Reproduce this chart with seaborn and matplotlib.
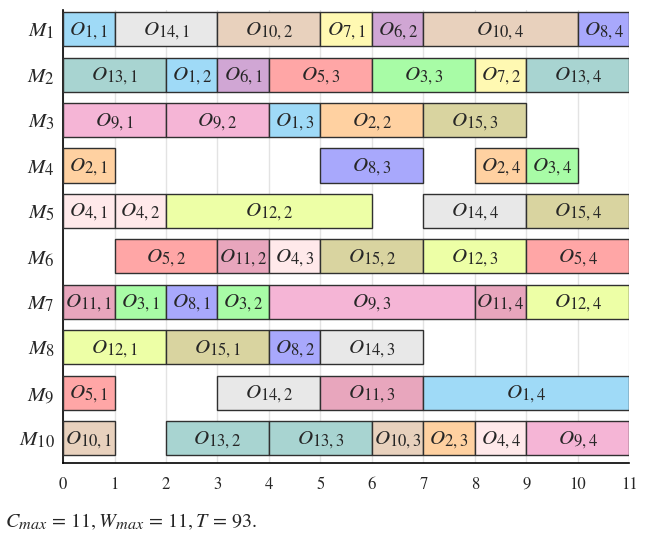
import numpy as np
import seaborn as sns
import matplotlib.pyplot as plt
import matplotlib._mathtext as mathtext_mod

# schedule: one entry per operation, grouped by machine
machine = [1]*7 + [2]*7 + [3]*5 + [4]*4 + [5]*5 + [6]*6 + [7]*7 + [8]*4 + [9]*4 + [10]*7
job = [1, 14, 10, 7, 6, 10, 8,
       13, 1, 6, 5, 3, 7, 13,
       9, 9, 1, 2, 15,
       2, 8, 2, 3,
       4, 4, 12, 14, 15,
       5, 11, 4, 15, 12, 5,
       11, 3, 8, 3, 9, 11, 12,
       12, 15, 8, 14,
       5, 14, 11, 1,
       10, 13, 13, 10, 2, 4, 9]
op = [1, 1, 2, 1, 2, 4, 4,
      1, 2, 1, 3, 3, 2, 4,
      1, 2, 3, 2, 3,
      1, 3, 4, 4,
      1, 2, 2, 4, 4,
      2, 2, 3, 2, 3, 4,
      1, 1, 1, 2, 3, 4, 4,
      1, 1, 2, 3,
      1, 2, 3, 4,
      1, 2, 3, 3, 3, 4, 4]
start = [0, 1, 3, 5, 6, 7, 10,
         0, 2, 3, 4, 6, 8, 9,
         0, 2, 4, 5, 7,
         0, 5, 8, 9,
         0, 1, 2, 7, 9,
         1, 3, 4, 5, 7, 9,
         0, 1, 2, 3, 4, 8, 9,
         0, 2, 4, 5,
         0, 3, 5, 7,
         0, 2, 4, 6, 7, 8, 9]
dur = [1, 2, 2, 1, 1, 3, 1,
       2, 1, 1, 2, 2, 1, 2,
       2, 2, 1, 2, 2,
       1, 2, 1, 1,
       1, 1, 4, 2, 2,
       2, 1, 1, 2, 2, 2,
       1, 1, 1, 1, 4, 1, 2,
       2, 2, 1, 2,
       1, 2, 2, 4,
       1, 2, 2, 1, 1, 1, 2]

job_colors = {1: '#9fdaf7', 2: '#ffd1a1', 3: '#a8fca6', 4: '#ffe9ea',
              5: '#ffa6a6', 6: '#d0a6d4', 7: '#fff9b2', 8: '#a8a8fc',
              9: '#f5b5d6', 10: '#e8d1bd', 11: '#e8a6bd', 12: '#edffa6',
              13: '#a8d4d1', 14: '#e8e8e8', 15: '#d9d4a0'}

# bigger subscripts, closer to the latex look
mathtext_mod.SHRINK_FACTOR = 0.8

sns.set_style('white')
plt.rcParams['mathtext.fontset'] = 'stix'
plt.rcParams['font.family'] = ['STIXGeneral', 'DejaVu Serif']

fig, ax = plt.subplots(figsize=(6.5, 5.33), dpi=100)
fig.subplots_adjust(left=0.097, right=0.968, top=0.981, bottom=0.131)

for m, j, o, s, d in zip(machine, job, op, start, dur):
    ax.barh(m, d, left=s, height=0.75, color=job_colors[j],
            edgecolor='#303030', linewidth=1.0, zorder=3)
    ax.text(s + d / 2, m + 0.04, r'$O_{%d,%d}$' % (j, o), ha='center',
            va='center', fontsize=15, zorder=4)

ax.set_xlim(0, 11)
ax.set_ylim(10.55, 0.58)
ax.set_xticks(np.arange(12))
ax.set_yticks(range(1, 11))
ax.set_yticklabels([r'$M_{%d}$' % i for i in range(1, 11)])
ax.tick_params(axis='x', length=0, pad=10, labelsize=12)
ax.tick_params(axis='y', length=0, pad=6, labelsize=15)
ax.xaxis.grid(True, color='#e3e3e3', linewidth=1.0, zorder=0)
ax.yaxis.grid(False)
sns.despine(ax=ax)
for side in ['left', 'bottom']:
    ax.spines[side].set_color('black')
    ax.spines[side].set_linewidth(1.2)

fig.text(0.008, 0.011, r'$C_{max}\,=\,11, W_{max}\,=\,11, T\,=\,93.$',
         fontsize=14.5, ha='left', va='baseline')

fig.savefig('out.png', dpi=100)
